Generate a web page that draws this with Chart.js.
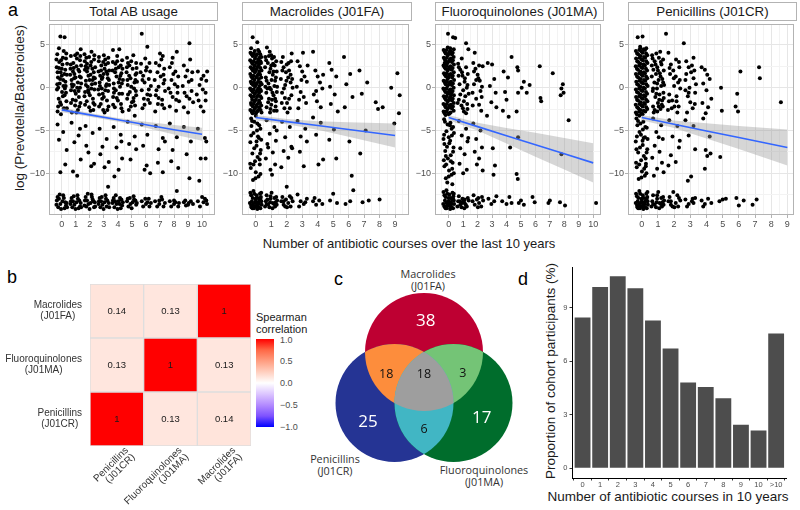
<!DOCTYPE html>
<html>
<head>
<meta charset="utf-8">
<title>Antibiotic courses and Prevotella/Bacteroides ratio</title>
<script src="https://cdn.jsdelivr.net/npm/chart.js@4.4.1/dist/chart.umd.min.js"></script>
<style>
  body { margin: 0; background: #fff; }
  #page { position: relative; width: 800px; height: 510px; overflow: hidden;
          font-family: "Liberation Sans", Arial, sans-serif; color: #1a1a1a; }
  .box { position: absolute; }
  .t { position: absolute; white-space: nowrap; line-height: 1; transform: translate(-50%, -50%); }
  .strip { position: absolute; box-sizing: border-box; border: 1px solid #b3b3b3; background: #fff;
           font-size: 13.3px; line-height: 17px; text-align: center; color: #1a1a1a; white-space: nowrap; }
  .letter { position: absolute; font-size: 18px; line-height: 1; color: #000; }
  .venn { position: absolute; font-family: "Open Sans", sans-serif; font-size: 10.8px; line-height: 12.3px;
          text-align: center; color: #333; white-space: nowrap; transform: translate(-50%, -50%); }
  .cb { position: absolute; font-size: 9px; color: #4d4d4d; line-height: 1; transform: translateY(-50%); }
</style>
</head>
<body>
<div id="page">
  <div class="letter" style="left:8px;top:1px">a</div>
  <div class="t" style="left:20px;top:108px;font-size:13.5px;transform:translate(-50%,-50%) rotate(-90deg)">log (Prevotella/Bacteroides)</div>
  <div class="t" style="left:409px;top:243px;font-size:13px">Number of antibiotic courses over the last 10 years</div>

  <div class="letter" style="left:7px;top:268px">b</div>
  <div class="t" style="left:256px;top:317px;font-size:11px;transform:translateY(-50%)">Spearman</div>
  <div class="t" style="left:256px;top:329px;font-size:11px;transform:translateY(-50%)">correlation</div>
  <div id="colorbar" class="box" style="left:256px;top:339px;width:18px;height:88px"></div>

  <div class="letter" style="left:334px;top:270px">c</div>
  <div class="venn" style="left:428px;top:280px">Macrolides<br>(J01FA)</div>
  <div class="venn" style="left:335px;top:465px">Penicillins<br>(J01CR)</div>
  <div class="venn" style="left:484px;top:476px">Fluoroquinolones<br>(J01MA)</div>

  <div class="letter" style="left:518px;top:270px">d</div>
  <div class="t" style="left:551px;top:371px;font-size:13.5px;transform:translate(-50%,-50%) rotate(-90deg)">Proportion of cohort participants (%)</div>
  <div class="t" style="left:668px;top:497px;font-size:13.5px">Number of antibiotic courses in 10 years</div>
</div>

<script>
const facetTitles = ['Total AB usage', 'Macrolides (J01FA)', 'Fluoroquinolones (J01MA)', 'Penicillins (J01CR)'];

const totalAbPoints = [
  // 0 courses
  -0.32,3.9, 0.14,4.3, 0.3,3.4, -0.18,3.0, 0.05,2.7, -0.36,2.4, 0.25,2.1, -0.08,1.8, 0.36,1.5, -0.27,1.2,
  0.1,0.9, -0.15,0.5, 0.28,0.2, -0.34,-0.2, 0.02,-0.5, 0.2,-0.9, -0.22,-1.3, 0.33,-1.6, -0.05,-2.0, 0.15,-2.4,
  -0.3,-2.8, 0.08,3.5, -0.12,1.0, 0.22,-0.1, -0.25,0.0, 0.38,2.8, -0.1,6.0, 0.2,5.9, -0.2,4.6, 0.0,1.4,
  -0.05,3.2, 0.32,4.0, -0.38,3.3, 0.18,1.6, -0.2,2.3, 0.26,0.7, -0.32,0.4, 0.08,-1.0, -0.12,-1.7, 0.36,-2.4,
  -0.26,-2.2, 0.12,0.2, -0.06,-3.1, 0.3,-0.6, -0.3,1.8, 0.0,2.2,
  -0.3,-4.3, 0.1,-5.2, -0.2,-6.1, 0.35,-7.3, -0.1,-9.9, 0.25,-9.0,
  -0.35,-13.2, -0.1,-13.6, 0.15,-12.9, 0.3,-13.8, -0.25,-14.0, 0.05,-13.3, 0.35,-13.5, -0.15,-12.5, 0.2,-14.1, -0.38,-13.7,
  -0.2,-13.0, 0.25,-13.4, -0.05,-14.2, 0.1,-12.6, -0.3,-12.8, 0.38,-14.0,
  // 1
  0.65,3.7, 1.1,4.0, 1.3,3.2, 0.82,2.9, 1.05,2.5, 0.62,2.2, 1.25,1.9, 0.9,1.6, 1.36,1.2, 0.7,0.9,
  1.15,0.6, 0.85,0.3, 1.3,0.0, 0.66,-0.3, 1.0,-0.7, 1.22,-1.1, 0.78,-1.4, 1.33,-1.8, 0.95,-2.1, 1.15,-2.6,
  0.72,-2.9, 1.08,3.4, 0.88,1.1, 1.2,-0.4, 0.75,0.1, 1.38,2.6, 1.0,-1.5, 0.6,1.5, 1.35,4.5,
  0.95,3.8, 1.32,3.7, 0.64,2.7, 1.18,2.1, 0.8,1.9, 1.28,1.3, 0.72,0.4, 1.1,0.0, 0.92,-0.4, 1.25,-2.2,
  0.66,-1.8, 1.05,-2.9, 0.85,2.3, 1.38,0.5, 0.98,1.2,
  0.7,-4.1, 1.2,-5.6, 0.9,-6.4, 1.35,-8.4, 0.8,-9.8, 1.1,-10.3, 1.3,-4.8,
  0.65,-13.3, 0.9,-13.7, 1.15,-13.0, 1.35,-13.5, 0.75,-14.0, 1.05,-13.4, 1.3,-13.9, 0.85,-12.7, 1.2,-14.1, 0.62,-13.6,
  0.7,-12.9, 1.25,-13.2, 0.98,-14.2, 1.12,-12.6, 0.8,-13.3, 1.38,-14.0,
  // 2
  1.62,3.9, 2.12,4.2, 2.3,3.3, 1.8,2.8, 2.05,2.6, 1.65,2.1, 2.28,1.8, 1.9,1.4, 2.36,1.1, 1.72,0.8,
  2.15,0.4, 1.85,0.1, 2.32,-0.2, 1.66,-0.5, 2.0,-0.9, 2.22,-1.3, 1.78,-1.6, 2.34,-2.0, 1.95,-2.3, 2.1,3.0,
  1.7,2.5, 2.2,0.9, 1.88,-0.3, 2.38,2.4, 1.62,-1.0, 2.05,1.5, 1.75,3.5, 2.25,-2.6,
  1.95,3.6, 2.32,3.8, 1.64,3.1, 2.18,2.2, 1.8,1.9, 2.28,1.2, 1.72,0.3, 2.1,-0.1, 1.92,-0.6, 2.25,-1.8,
  1.66,-2.0, 2.05,-2.7, 1.85,2.3, 2.38,0.5, 1.98,0.9,
  1.7,-4.5, 2.2,-5.3, 1.9,-7.6, 2.3,-8.9, 1.75,-6.8, 2.1,-9.2,
  1.65,-13.2, 1.9,-13.6, 2.15,-12.8, 2.35,-13.4, 1.75,-13.9, 2.05,-13.5, 2.3,-14.0, 1.85,-12.4, 2.2,-13.1, 1.62,-13.8,
  1.7,-12.8, 2.25,-13.3, 1.98,-14.2, 2.12,-12.5, 1.8,-13.2, 2.38,-13.9,
  // 3
  2.65,3.6, 3.1,3.3, 3.3,2.9, 2.82,2.6, 3.05,2.2, 2.62,1.9, 3.25,1.6, 2.9,1.2, 3.36,0.9, 2.7,0.6,
  3.15,0.2, 2.85,-0.1, 3.3,-0.4, 2.66,-0.8, 3.0,-1.1, 3.22,-1.5, 2.78,-1.9, 3.33,-2.2, 2.95,-2.6, 3.12,2.7,
  2.74,1.4, 3.2,0.4, 2.88,-1.3, 3.38,2.0, 2.6,-0.2, 3.0,3.8,
  2.95,3.0, 3.32,3.5, 2.64,3.1, 3.18,1.9, 2.8,2.0, 3.28,1.1, 2.72,0.2, 3.1,-0.3, 2.92,-0.7, 3.25,-2.6,
  2.66,-2.2, 3.05,-2.9, 2.85,1.0, 3.38,0.3, 2.98,1.6,
  2.7,-4.8, 3.2,-6.0, 2.9,-6.9, 3.35,-8.7, 3.05,-9.3, 2.75,-7.8,
  2.65,-13.3, 2.9,-13.7, 3.15,-13.0, 3.35,-13.5, 2.75,-14.0, 3.05,-13.4, 3.3,-11.6, 2.85,-12.8, 3.2,-13.9, 2.62,-13.6,
  2.7,-12.9, 3.25,-13.2, 2.98,-14.2, 3.12,-12.6, 2.8,-13.3, 3.38,-14.0,
  // 4
  3.65,4.4, 4.1,4.5, 4.3,3.2, 3.82,2.8, 4.05,2.4, 3.62,2.0, 4.25,1.7, 3.9,1.3, 4.36,0.9, 3.7,0.5,
  4.15,0.1, 3.85,-0.3, 4.3,-0.7, 3.66,-1.1, 4.0,-1.5, 4.22,-1.9, 3.78,-2.3, 4.33,-2.8, 3.95,3.7, 4.12,1.0,
  3.72,-0.6, 4.2,2.6,
  3.95,3.1, 4.32,2.2, 3.64,3.0, 4.18,1.4, 3.8,1.8, 4.28,0.5, 3.72,-0.1, 4.1,-0.7, 3.92,-1.2, 4.25,-2.4,
  3.66,-2.0, 4.05,0.6, 3.85,2.2,
  3.7,-4.6, 4.2,-5.5, 3.9,-7.0, 4.3,-8.3, 4.05,-9.6, 3.75,-10.4, 4.25,-6.3,
  3.65,-13.2, 3.9,-13.6, 4.15,-12.9, 4.35,-13.4, 3.75,-14.0, 4.05,-13.3, 4.3,-13.8, 3.85,-12.6, 4.2,-14.1, 3.62,-13.5,
  3.7,-12.9, 4.25,-13.1, 3.98,-14.2, 4.12,-13.6, 3.8,-13.3,
  // 5
  4.65,3.5, 5.1,3.8, 5.3,2.9, 4.82,2.6, 5.05,2.2, 4.62,1.8, 5.25,1.5, 4.9,1.1, 5.36,0.7, 4.7,0.3,
  5.15,-0.1, 4.85,-0.5, 5.3,-0.9, 4.66,-1.3, 5.0,-1.7, 5.22,-2.1, 4.78,-2.6, 5.33,2.3, 4.95,0.1, 5.12,-1.2,
  4.72,2.9, 5.2,-3.3,
  4.95,3.1, 5.32,1.7, 4.64,2.4, 5.18,0.6, 4.8,1.4, 5.28,-0.4, 4.72,-0.8, 5.1,-1.6, 4.92,-2.2, 5.25,0.9, 4.68,0.9,
  4.7,-4.0, 5.2,-5.7, 4.9,-8.4, 5.3,-7.2, 4.8,-6.6,
  4.65,-13.3, 4.9,-13.6, 5.15,-13.1, 5.35,-13.5, 4.75,-13.9, 5.05,-13.4, 5.3,-13.7, 4.85,-12.9,
  4.7,-13.0, 5.25,-13.2, 4.98,-14.1, 5.12,-12.7,
  // 6
  5.7,6.3, 6.1,4.8, 5.65,2.8, 6.05,2.4, 6.3,1.9, 5.8,1.4, 6.2,1.0, 5.9,0.6, 6.35,0.2, 5.7,-0.3,
  6.1,-0.8, 5.85,-1.3, 6.28,-1.8, 5.75,-2.4, 6.0,2.0, 6.2,-0.2,
  5.95,3.4, 6.25,2.9, 5.75,0.9, 6.15,-1.4, 5.9,-2.0, 6.3,-0.9, 5.62,1.8,
  5.7,-4.3, 6.1,-5.5, 5.9,-9.6, 6.3,-10.0, 6.05,-9.1, 5.8,-6.8,
  5.7,-13.3, 6.0,-13.6, 6.2,-13.0, 6.35,-13.5, 5.8,-13.9, 6.1,-13.4, 5.95,-13.0, 6.25,-13.9,
  // 7
  6.7,2.9, 7.1,3.3, 7.3,2.2, 6.82,1.8, 7.05,1.3, 6.62,0.9, 7.25,0.5, 6.9,0.1, 7.36,-0.4, 6.7,-0.9,
  7.15,-1.4, 6.85,-1.9, 7.3,-2.4, 6.66,-2.8, 7.0,4.0, 7.2,3.7,
  6.95,2.6, 7.25,1.5, 6.75,-0.3, 7.15,-2.0, 6.9,-1.2, 7.32,0.9,
  6.7,-4.5, 7.2,-5.9, 6.9,-7.2, 7.35,-6.3, 6.85,-8.8, 7.2,-9.9,
  6.65,-13.3, 6.95,-13.6, 7.15,-13.1, 7.35,-13.5, 6.8,-13.9, 7.1,-12.8, 6.95,-13.2, 7.25,-13.9,
  // 8
  7.7,2.4, 8.1,1.9, 8.3,1.3, 7.82,0.9, 8.05,0.4, 7.62,-0.1, 8.25,-0.6, 7.9,-1.1, 8.36,-1.6, 7.7,-2.2,
  8.15,-2.7, 8.2,4.2, 7.85,2.9, 7.95,1.6, 8.25,0.1, 7.75,-0.6, 8.15,-1.4, 7.9,3.5,
  7.7,-4.2, 8.2,-5.8, 7.9,-7.3, 8.3,-9.4, 7.8,-8.6,
  7.7,-13.3, 8.0,-13.6, 8.2,-12.1, 8.35,-13.5, 7.8,-13.9, 8.1,-13.4, 8.0,-13.2, 8.3,-13.9,
  // 9
  8.7,2.6, 9.1,5.2, 9.3,1.8, 8.82,1.3, 9.05,0.7, 8.62,0.2, 9.25,-0.4, 8.9,-1.0, 9.36,-1.7, 8.7,-2.3,
  9.15,3.3, 9.0,-2.9, 8.95,2.0, 9.25,0.9, 8.75,-0.6, 9.1,-1.3,
  8.7,-4.6, 9.2,-6.3, 8.9,-7.8, 9.1,-10.6,
  8.7,-13.4, 9.0,-13.7, 9.2,-13.3, 9.35,-13.6, 8.85,-13.8, 9.05,-13.5, 8.8,-13.2,
  // 10
  9.7,1.9, 10.1,1.4, 10.3,0.8, 9.82,0.3, 10.05,-0.2, 9.62,-0.8, 10.25,-1.5, 9.9,-2.2, 10.36,1.9, 10.1,-2.8,
  9.95,1.0, 10.25,-0.6, 9.75,-1.5,
  9.7,-4.8, 10.2,-5.9, 9.9,-8.3, 10.25,-8.3, 9.8,-10.9, 10.3,-6.3,
  9.7,-13.3, 10.0,-12.8, 10.2,-13.0, 10.35,-13.6, 9.85,-13.9, 10.1,-13.4, 10.3,-13.2
];

const macrolidePoints = [
  // 0 courses
  -0.34,4.1, -0.36,3.2, -0.33,2.4, -0.35,1.6, -0.32,0.7, -0.36,-0.1, -0.34,-0.9, -0.31,-1.8, -0.35,-2.6,
  -0.27,3.9, -0.28,3.0, -0.26,2.2, -0.29,1.3, -0.27,0.5, -0.28,-0.3, -0.26,-1.1, -0.29,-2.0, -0.27,-2.8,
  -0.2,3.7, -0.22,2.8, -0.19,2.0, -0.21,1.1, -0.18,0.3, -0.2,-0.5, -0.23,-1.4, -0.19,-2.2, -0.21,-3.0,
  -0.13,4.0, -0.14,3.1, -0.12,2.3, -0.15,1.4, -0.13,0.6, -0.14,-0.2, -0.12,-1.0, -0.15,-1.9, -0.13,-2.7,
  -0.07,4.3, -0.05,3.4, -0.08,2.6, -0.06,1.8, -0.09,0.9, -0.05,0.1, -0.07,-0.7, -0.08,-1.6, -0.06,-2.4,
  0.01,3.7, 0.02,2.9, 0.0,2.0, 0.03,1.2, 0.01,0.3, 0.02,-0.5, 0.0,-1.4, 0.03,-2.2, 0.01,-3.0,
  0.08,3.9, 0.1,3.0, 0.07,2.2, 0.09,1.4, 0.06,0.5, 0.1,-0.3, 0.08,-1.1, 0.07,-2.0, 0.09,-2.8,
  0.15,4.4, 0.16,3.3, 0.14,2.5, 0.17,1.6, 0.15,0.7, 0.16,-0.1, 0.14,-0.9, 0.17,-1.8, 0.15,-2.6,
  0.22,4.2, 0.24,3.5, 0.21,2.7, 0.23,1.9, 0.2,1.0, 0.24,0.2, 0.22,-0.6, 0.21,-1.5, 0.23,-2.3,
  0.29,3.9, 0.3,2.3, 0.28,1.5, 0.31,0.6, 0.29,-0.2, 0.3,-1.0, 0.28,-1.8, 0.31,-2.6,
  0.36,3.6, 0.34,2.9, 0.37,2.0, 0.35,1.2, 0.38,0.4, 0.34,-0.4, 0.36,-1.2, 0.35,-2.1, 0.37,-2.9,
  -0.2,5.9, 0.1,5.3, -0.3,4.6, 0.0,-3.3, 0.3,3.1,
  -0.3,-3.6, 0.1,-4.2, 0.3,-4.8, -0.15,-5.3, 0.2,-5.9, -0.35,-6.4, 0.05,-6.8, 0.32,-7.3, -0.22,-7.7, 0.12,-8.1,
  -0.05,-8.6, 0.26,-9.0, -0.32,-9.4, 0.0,-9.9, 0.18,-10.4, -0.18,-10.8, -0.28,-4.5, 0.35,-6.1, -0.1,-7.1, 0.25,-8.4,
  -0.36,-8.9, 0.08,-5.0, -0.24,-3.9, 0.3,-10.1,
  -0.1,-4.0, 0.22,-4.4, -0.3,-5.6, 0.05,-6.3, -0.15,-9.0, 0.28,-7.7, -0.02,-10.6, 0.14,-5.7,
  -0.35,-12.3, -0.2,-12.9, -0.05,-13.5, 0.1,-13.9, 0.25,-13.2, 0.38,-13.7, -0.3,-13.8, -0.12,-14.1, 0.05,-12.6, 0.2,-14.0,
  0.33,-12.8, -0.25,-13.3, -0.02,-13.0, 0.15,-13.4, 0.3,-14.1, -0.38,-13.5, -0.15,-12.1, 0.08,-13.7, 0.27,-12.4, -0.08,-13.9,
  0.36,-13.3, -0.28,-14.0, 0.12,-12.9, -0.18,-13.6,
  -0.3,-12.6, 0.0,-13.3, 0.2,-13.6, -0.1,-12.4, 0.35,-12.3, -0.22,-14.1, 0.1,-14.2, 0.3,-13.0,
  // 1
  0.62,3.6, 0.78,2.9, 0.95,2.2, 1.1,1.5, 1.25,0.8, 1.38,0.1, 0.68,-0.6, 0.85,-1.3, 1.0,-2.0, 1.18,-2.7,
  1.32,3.1, 0.72,4.7, 0.9,4.2, 1.05,3.4, 1.22,2.6, 1.35,1.9, 0.65,1.2, 0.82,0.5, 0.98,-0.2, 1.15,-0.9,
  1.3,-1.6, 0.7,-2.3, 0.88,1.8, 1.02,0.9, 1.2,0.2, 0.75,-0.1, 1.28,-2.2, 0.92,-2.9, 1.12,2.8, 0.6,2.4,
  1.36,-0.5, 1.0,3.8,
  0.67,3.2, 0.85,3.7, 1.0,2.6, 1.15,1.9, 1.3,1.2, 0.7,0.8, 0.9,0.0, 1.08,-0.6, 1.25,-1.3, 0.8,-1.7,
  0.95,-2.5, 1.35,-2.7, 0.62,0.1, 1.18,3.6, 1.05,-1.4,
  0.7,-3.8, 1.2,-4.6, 0.9,-5.4, 1.3,-6.2, 0.8,-7.0, 1.1,-7.6, 0.65,-8.3, 1.25,-9.0, 0.95,-9.6, 1.35,-5.0,
  0.75,-6.6, 1.05,-10.2,
  0.65,-13.3, 0.8,-13.7, 0.95,-13.0, 1.1,-13.5, 1.25,-13.9, 1.38,-13.2, 0.7,-12.6, 0.88,-14.0, 1.02,-12.3, 1.18,-13.6,
  1.32,-12.8, 0.6,-13.9, 1.08,-14.1, 0.92,-13.4, 1.28,-13.4, 0.75,-13.1,
  0.7,-13.6, 1.2,-12.9, 0.95,-12.7, 1.35,-13.7,
  // 2
  1.65,3.0, 1.8,2.4, 1.95,1.8, 2.1,1.2, 2.25,0.6, 2.38,0.0, 1.7,-0.6, 1.88,-1.2, 2.02,-1.8, 2.2,-2.4,
  2.32,4.0, 1.75,3.6, 2.0,2.7, 2.15,2.0, 1.62,1.0, 2.3,-0.9, 1.9,0.3, 2.05,-2.9, 2.25,1.5, 1.82,-0.1,
  1.72,2.0, 2.12,2.9, 1.98,0.8, 2.35,1.0, 1.68,-1.8, 2.15,-1.3, 1.85,-2.4, 2.28,3.1,
  1.7,-4.0, 2.2,-4.6, 1.9,-5.8, 2.3,-6.9, 1.8,-7.4, 2.1,-8.2, 1.65,-9.3, 2.35,-7.1, 2.0,-11.6,
  1.65,-13.3, 1.8,-13.7, 1.95,-13.1, 2.1,-13.5, 2.25,-13.9, 2.38,-13.3, 1.72,-12.8, 2.02,-14.0, 2.3,-12.9, 1.9,-13.9,
  1.8,-13.3, 2.2,-12.7,
  // 3
  2.7,3.1, 2.85,2.5, 3.0,1.9, 3.15,1.3, 3.3,0.7, 2.65,0.1, 2.9,-0.5, 3.1,-1.1, 3.25,-1.8, 2.75,-2.4,
  3.05,4.1, 2.95,0.9, 3.35,2.6, 2.8,-1.4,
  2.7,-3.9, 3.2,-4.8, 2.9,-5.7, 3.3,-6.3, 2.85,-7.5, 3.1,-9.2,
  2.7,-12.5, 2.9,-13.3, 3.1,-13.6, 3.3,-13.0, 2.8,-13.9, 3.2,-13.4,
  // 4
  3.7,4.2, 3.85,2.0, 4.0,1.3, 4.15,0.6, 4.3,-0.1, 3.75,-0.8, 3.95,-1.6, 4.2,-2.3, 4.35,1.5, 3.9,-0.4,
  3.7,-3.5, 4.2,-4.1, 3.9,-5.5, 4.35,-8.4, 4.05,-9.0,
  3.7,-13.3, 3.9,-13.7, 4.1,-13.2, 4.3,-13.6, 3.8,-12.9,
  // 5 - 9
  4.75,2.9, 4.9,2.1, 5.2,1.3, 4.8,0.1, 5.1,-0.8, 4.85,-1.9, 5.3,-2.8, 5.05,-4.9, 5.2,-8.3, 4.75,-6.1,
  5.0,-12.4, 5.25,-13.5, 4.8,-13.2,
  5.7,3.6, 6.1,1.6, 5.85,0.4, 6.25,-1.1, 5.75,-2.3, 6.05,-6.3, 6.2,-10.3, 6.3,-12.0, 5.8,-13.6, 6.1,-13.3,
  6.7,2.0, 7.2,0.6, 6.85,-0.7, 7.1,-5.0, 6.75,-7.7, 7.3,-13.2, 6.9,-13.4,
  7.75,-1.7, 8.2,-2.3, 7.9,-2.5, 8.0,-13.1,
  8.75,0.0, 9.15,1.7, 9.3,-0.9, 9.25,-3.0, 8.95,-4.2
];

const fluoroPoints = [
  // 0 courses
  -0.35,4.4, -0.34,3.5, -0.36,2.6, -0.33,1.7, -0.35,0.8, -0.37,-0.1, -0.34,-1.0, -0.36,-1.9, -0.35,-2.8,
  -0.28,4.2, -0.27,3.3, -0.29,2.4, -0.28,1.5, -0.27,0.6, -0.29,-0.3, -0.28,-1.2, -0.27,-2.1, -0.29,-3.0,
  -0.21,4.0, -0.2,3.1, -0.22,2.2, -0.19,1.3, -0.21,0.4, -0.23,-0.5, -0.2,-1.4, -0.21,-2.3, -0.22,-3.2,
  -0.14,4.4, -0.13,3.5, -0.15,2.6, -0.14,1.7, -0.13,0.8, -0.15,-0.1, -0.14,-1.0, -0.13,-1.9, -0.15,-2.8,
  -0.07,4.7, -0.06,3.8, -0.08,2.9, -0.07,2.0, -0.05,1.1, -0.08,0.2, -0.07,-0.7, -0.06,-1.6, -0.08,-2.5,
  0.0,4.0, 0.01,3.1, -0.01,2.2, 0.0,1.3, 0.01,0.4, -0.01,-0.5, 0.0,-1.4, 0.01,-2.3, 0.0,-3.1,
  0.07,4.2, 0.08,3.3, 0.06,2.4, 0.07,1.5, 0.09,0.6, 0.06,-0.3, 0.08,-1.2, 0.07,-2.1, 0.06,-3.0,
  0.14,4.3, 0.15,3.4, 0.13,2.5, 0.14,1.6, 0.15,0.7, 0.13,-0.2, 0.14,-1.1, 0.15,-2.0, 0.13,-2.9,
  0.21,3.9, 0.22,3.0, 0.2,2.1, 0.23,1.2, 0.21,0.3, 0.2,-0.6, 0.22,-1.5, 0.21,-2.4,
  0.28,4.1, 0.29,3.2, 0.27,2.3, 0.28,1.4, 0.29,0.5, 0.27,-0.4, 0.28,-1.3, 0.29,-2.2,
  0.35,4.5, 0.34,3.6, 0.36,2.7, 0.35,1.8, 0.37,0.9, 0.34,0.0, 0.36,-0.9, 0.35,-1.8, 0.34,-2.7,
  -0.05,6.3, 0.3,5.9, 0.45,5.8, 0.1,4.6, -0.28,2.9, 0.14,-0.8, -0.14,0.7,
  -0.32,-3.7, 0.12,-4.1, 0.3,-4.6, -0.16,-5.1, 0.22,-5.6, -0.36,-6.0, 0.04,-6.5, 0.33,-7.0, -0.24,-7.4, 0.14,-7.9,
  -0.06,-8.3, 0.27,-8.8, -0.3,-9.2, 0.02,-9.7, 0.2,-10.2, -0.2,-10.6, -0.1,-11.1, 0.36,-5.3, -0.12,-6.9, 0.24,-9.5,
  -0.34,-8.5, 0.08,-4.4, -0.26,-4.0, 0.35,-10.0, 0.0,-5.8, -0.2,-8.0,
  -0.08,-4.3, 0.2,-4.8, -0.32,-5.5, 0.1,-6.2, -0.18,-9.0, 0.3,-7.5, 0.0,-10.4, 0.15,-8.6, -0.3,-6.6, 0.25,-11.3,
  -0.36,-12.2, -0.22,-12.8, -0.06,-13.4, 0.1,-13.9, 0.24,-13.1, 0.37,-13.6, -0.3,-13.9, -0.14,-14.1, 0.04,-12.5, 0.19,-14.0,
  0.32,-12.7, -0.26,-13.2, -0.02,-12.9, 0.14,-13.4, 0.3,-14.1, -0.38,-13.6, -0.16,-12.0, 0.08,-13.7, 0.26,-12.3, -0.08,-13.8,
  0.35,-13.2, -0.28,-13.9, 0.12,-12.9, -0.18,-13.5,
  -0.3,-12.6, 0.0,-13.3, 0.2,-13.6, -0.1,-12.4, 0.35,-12.4, -0.22,-14.1, 0.1,-14.2, 0.3,-13.0,
  // 1
  0.65,2.8, 0.8,2.1, 0.95,1.4, 1.1,0.7, 1.25,0.0, 1.38,-0.7, 0.7,-1.4, 0.88,-2.1, 1.05,-2.8, 1.2,2.4,
  1.32,1.6, 0.75,0.4, 1.0,-0.3, 1.15,-1.0, 0.62,-1.8, 1.3,-2.5, 0.9,3.4, 1.2,5.2, 1.36,4.5,
  0.7,2.4, 0.92,1.8, 1.12,1.1, 1.3,0.3, 0.8,-0.8, 1.05,-1.6, 1.28,-1.9, 0.68,1.4, 0.98,-2.4, 1.2,-3.0,
  0.7,-3.9, 1.2,-4.8, 0.9,-5.6, 1.3,-6.3, 0.8,-7.1, 1.1,-7.8, 0.75,-8.9, 1.25,-9.6, 1.0,-10.0, 1.35,-5.9,
  0.65,-13.3, 0.8,-13.7, 0.95,-13.0, 1.1,-13.5, 1.25,-13.9, 1.38,-13.2, 0.7,-12.7, 0.88,-14.0, 1.02,-13.3, 1.18,-13.7,
  1.32,-12.9, 0.6,-13.9, 1.08,-14.1, 0.92,-13.5, 1.1,-13.1, 0.78,-13.3,
  // 2
  1.7,2.9, 1.85,2.2, 2.0,1.5, 2.15,0.8, 2.3,0.1, 1.65,-0.6, 1.9,-1.3, 2.1,-2.0, 2.25,-2.7, 1.8,4.1,
  2.05,1.1, 2.35,2.5, 1.75,0.4, 2.2,-0.4, 1.75,1.9, 2.1,2.6, 1.9,0.9, 2.28,-1.1, 1.66,-2.1,
  1.7,-4.2, 2.2,-5.0, 1.9,-6.0, 2.3,-7.0, 1.8,-7.5, 2.1,-8.3, 2.35,-9.7, 1.95,-9.0,
  1.65,-13.3, 1.8,-13.7, 1.95,-13.1, 2.1,-13.5, 2.25,-13.9, 2.38,-13.2, 1.72,-12.6, 2.02,-14.0, 2.3,-12.8, 2.05,-12.9,
  // 3 - 10
  2.7,2.9, 3.0,2.7, 3.15,1.0, 2.85,0.2, 3.25,-0.6, 2.95,-1.7, 3.3,-2.3, 2.65,-3.3,
  3.05,-7.1, 3.2,-9.1, 3.1,-10.2,
  2.75,-13.0, 2.95,-13.6, 3.15,-13.3, 3.3,-12.7,
  3.8,1.9, 4.1,1.2, 4.35,3.6, 3.9,-0.5, 4.0,-1.4, 3.75,-2.7, 4.15,-3.4, 4.25,-7.0,
  3.7,-13.3, 4.0,-13.6, 4.2,-12.8, 4.35,-13.5,
  4.75,2.4, 4.8,2.0, 5.2,0.7, 4.8,-0.6, 5.05,0.0, 4.7,-2.8, 4.8,-5.8, 4.7,-10.1, 4.78,-10.7,
  5.0,-13.2, 5.2,-13.7, 4.85,-13.5,
  5.6,0.3, 5.4,-0.6, 5.8,-12.8, 5.95,-13.4, 6.3,2.5, 6.35,-1.2, 6.4,-1.6,
  7.2,1.7, 7.0,-13.2, 6.9,-13.5,
  7.8,-0.1, 7.9,0.4, 7.95,-0.6, 7.75,-0.9, 7.8,-7.8, 8.3,-3.8, 7.7,-13.4, 8.05,-13.8,
  10.2,-13.5
];

const penicillinPoints = [
  // 0 courses
  -0.36,4.3, -0.35,3.4, -0.37,2.5, -0.36,1.6, -0.34,0.7, -0.36,-0.2, -0.35,-1.1, -0.37,-2.0, -0.36,-2.9,
  -0.29,4.0, -0.28,3.1, -0.3,2.2, -0.29,1.3, -0.28,0.4, -0.3,-0.5, -0.29,-1.4, -0.28,-2.3, -0.3,-3.1,
  -0.22,3.9, -0.21,3.0, -0.23,2.1, -0.22,1.2, -0.2,0.3, -0.22,-0.6, -0.23,-1.5, -0.21,-2.4,
  -0.15,4.4, -0.14,3.5, -0.16,2.6, -0.15,1.7, -0.14,0.8, -0.16,-0.1, -0.15,-1.0, -0.14,-1.9, -0.16,-2.8,
  -0.08,4.6, -0.07,3.7, -0.09,2.8, -0.08,1.9, -0.06,1.0, -0.08,0.1, -0.09,-0.8, -0.07,-1.7, -0.08,-2.6,
  -0.01,4.2, 0.0,3.3, -0.02,2.4, -0.01,1.5, 0.0,0.6, -0.02,-0.3, -0.01,-1.2, 0.0,-2.1, -0.02,-3.0,
  0.06,4.1, 0.07,3.2, 0.05,2.3, 0.06,1.4, 0.08,0.5, 0.05,-0.4, 0.07,-1.3, 0.06,-2.2, 0.05,-3.1,
  0.13,4.5, 0.14,3.6, 0.12,2.7, 0.13,1.8, 0.14,0.9, 0.12,0.0, 0.13,-0.9, 0.14,-1.8, 0.12,-2.7,
  0.2,4.4, 0.21,3.5, 0.19,2.6, 0.2,1.7, 0.22,0.8, 0.19,-0.1, 0.21,-1.0, 0.2,-1.9, 0.22,-2.8,
  0.27,4.0, 0.28,3.1, 0.26,2.2, 0.27,1.3, 0.28,0.4, 0.26,-0.5, 0.27,-1.4, 0.28,-2.3,
  0.34,3.8, 0.35,2.9, 0.33,2.0, 0.34,1.1, 0.36,0.2, 0.33,-0.7, 0.35,-1.6, 0.34,-2.5,
  -0.25,5.9, 0.05,6.0, -0.1,4.8, 0.28,4.6, -0.15,-3.3, 0.12,2.7,
  -0.33,-3.6, 0.1,-4.0, 0.31,-4.7, -0.14,-5.2, 0.2,-5.8, -0.37,-6.3, 0.06,-6.7, 0.34,-7.2, -0.22,-7.6, 0.13,-8.0,
  -0.04,-8.5, 0.26,-8.9, -0.31,-9.3, 0.01,-9.8, 0.19,-10.3, -0.19,-10.7, -0.27,-4.4, 0.36,-6.0, -0.11,-7.0, 0.24,-8.3,
  -0.35,-8.8, 0.07,-4.9, -0.23,-3.9, 0.29,-10.0, -0.05,-5.5, 0.15,-9.5,
  -0.08,-4.2, 0.22,-4.6, -0.3,-5.7, 0.05,-6.2, -0.16,-9.0, 0.3,-7.6, -0.02,-10.5, 0.12,-5.9, -0.33,-7.2, 0.25,-9.2,
  -0.35,-12.4, -0.21,-12.9, -0.05,-13.5, 0.11,-13.9, 0.26,-13.2, 0.38,-13.7, -0.29,-13.8, -0.11,-14.1, 0.06,-12.6, 0.21,-14.0,
  0.34,-12.8, -0.25,-13.3, -0.01,-13.0, 0.16,-13.4, 0.31,-14.1, -0.37,-13.5, -0.15,-12.1, 0.09,-13.7, 0.28,-12.4, -0.07,-13.9,
  0.36,-13.3, -0.27,-14.0, 0.13,-12.9, -0.17,-13.6,
  -0.3,-12.7, 0.0,-13.3, 0.2,-13.6, -0.1,-12.4, 0.35,-12.2, -0.22,-14.1, 0.1,-14.2, 0.3,-13.0,
  // 1
  0.64,3.8, 0.8,3.1, 0.96,2.4, 1.12,1.7, 1.27,1.0, 1.38,0.3, 0.68,-0.4, 0.84,-1.1, 1.0,-1.8, 1.16,-2.5,
  1.32,3.3, 0.72,2.1, 0.9,4.0, 1.06,3.5, 1.22,2.7, 1.36,2.0, 0.62,1.3, 0.78,0.6, 0.94,-0.1, 1.1,-0.8,
  1.26,-1.5, 0.7,-2.2, 0.88,1.6, 1.04,0.9, 1.2,0.2, 0.74,-2.9, 1.3,-2.2, 0.96,-2.8, 1.14,4.2, 1.34,-0.6,
  1.5,6.3,
  0.67,3.4, 0.85,2.7, 1.0,2.0, 1.16,1.3, 1.32,0.6, 0.7,-0.1, 0.9,-0.7, 1.08,-1.4, 1.24,-2.0, 0.8,-2.6,
  0.95,0.5, 1.36,-1.2, 0.62,2.6, 1.18,3.0, 1.05,-2.2,
  0.7,-3.6, 1.2,-4.4, 0.9,-5.2, 1.3,-6.0, 0.8,-6.8, 1.1,-7.5, 0.65,-8.2, 1.25,-8.8, 0.95,-9.5, 1.35,-9.9,
  0.75,-10.3, 1.05,-5.8,
  0.65,-13.3, 0.8,-13.7, 0.95,-13.0, 1.1,-13.5, 1.25,-13.9, 1.38,-13.2, 0.7,-12.6, 0.88,-14.0, 1.02,-12.2, 1.18,-13.6,
  1.32,-12.8, 0.6,-13.9, 1.08,-14.1, 0.92,-13.4, 1.28,-13.4,
  0.7,-13.6, 1.2,-12.9, 0.95,-12.6, 1.35,-13.7,
  // 2
  1.65,4.1, 1.8,2.7, 1.95,2.0, 2.1,1.3, 2.25,0.6, 2.38,-0.1, 1.7,-0.8, 1.88,-1.5, 2.02,-2.2, 2.2,-2.9,
  2.32,2.4, 1.75,1.6, 2.0,0.2, 2.15,-1.0, 1.62,-2.6, 2.3,3.0,
  1.72,2.3, 2.12,3.3, 1.98,1.1, 2.35,0.9, 1.68,-1.6, 2.15,-1.6, 1.85,-2.4, 2.28,-2.2,
  1.7,-3.8, 2.2,-4.5, 1.9,-5.7, 2.3,-7.0, 1.8,-7.9, 2.1,-8.7, 1.65,-9.1, 2.35,-6.2,
  1.65,-13.3, 1.8,-13.7, 1.95,-12.2, 2.1,-13.5, 2.25,-13.9, 2.38,-13.2, 1.72,-12.8, 2.02,-14.0, 2.3,-12.9, 1.9,-13.9,
  1.8,-13.3, 2.2,-12.6,
  // 3
  2.6,5.2, 2.75,3.1, 2.9,2.4, 3.05,1.8, 3.2,1.1, 3.35,0.4, 2.7,-0.3, 2.85,-1.0, 3.0,-1.7, 3.15,-2.4,
  3.3,-0.6, 2.95,0.0, 3.25,2.0, 2.8,-2.9, 3.2,3.5, 2.75,1.6, 3.1,2.6, 2.9,-0.6, 3.28,-1.9, 2.7,0.9,
  2.7,-3.8, 3.2,-4.5, 2.9,-5.6, 3.3,-7.2, 2.85,-10.9, 3.05,-10.4,
  2.7,-13.1, 2.9,-13.6, 3.1,-13.3, 3.3,-12.9, 2.8,-13.9, 3.2,-13.5, 3.15,-13.0,
  // 4 - 8
  3.7,2.4, 3.9,2.1, 4.05,1.5, 4.2,1.0, 3.8,0.5, 4.0,-0.3, 4.3,-1.3, 3.75,-1.8, 4.1,-2.3, 3.95,-3.0,
  3.8,-3.6, 4.2,-5.7, 3.95,-7.3, 4.05,-8.0, 3.9,-9.5, 4.25,-7.7,
  3.7,-13.2, 3.9,-13.6, 4.1,-13.0, 4.3,-13.5, 3.8,-13.9,
  4.9,0.0, 4.95,-2.7, 4.85,-8.1, 4.8,-13.3, 5.0,-13.1, 5.2,-13.0,
  6.1,1.9, 5.9,-0.7, 5.8,-2.2, 5.95,-2.8, 5.85,-12.9, 6.0,-13.8, 6.3,-13.2,
  7.25,2.4, 7.3,1.1, 6.85,-13.7, 7.1,-13.1,
  8.6,-1.7
];

// linear fit and 95% band, read at a few x positions
const totalBandX = [0, 2, 4, 6, 8, 10];
const totalFit   = [-2.6, -3.18, -3.76, -4.34, -4.92, -5.45];
const totalHi    = [-2.32, -2.96, -3.54, -3.99, -4.37, -4.7];
const totalLo    = [-2.88, -3.40, -3.98, -4.69, -5.47, -6.2];

const macroBandX = [0, 2, 4, 6, 9];
const macroFit   = [-3.5, -3.97, -4.43, -4.9, -5.6];
const macroHi    = [-3.2, -3.67, -3.93, -4.05, -4.2];
const macroLo    = [-3.8, -4.27, -4.93, -5.75, -7.0];

const fluoroBandX = [0, 2, 4, 6, 8, 10];
const fluoroFit   = [-3.5, -4.56, -5.62, -6.68, -7.74, -8.8];
const fluoroHi    = [-3.2, -4.11, -4.72, -5.28, -5.89, -6.5];
const fluoroLo    = [-3.8, -5.01, -6.52, -8.08, -9.59, -11.1];

const peniBandX = [0, 2, 4, 6, 9];
const peniFit   = [-3.5, -4.28, -5.06, -5.83, -7.0];
const peniHi    = [-3.2, -3.83, -4.16, -4.48, -4.9];
const peniLo    = [-3.8, -4.73, -5.96, -7.18, -9.1];

const yTickValues = [5, 0, -5, -10];

// ---- panel b: Spearman correlation between classes ----
const corrNames = [['Penicillins', '(J01CR)'], ['Fluoroquinolones', '(J01MA)'], ['Macrolides', '(J01FA)']];
// rows bottom to top, columns left to right (same order as corrNames)
const corrRows = [
  [1, 0.13, 0.14],
  [0.13, 1, 0.13],
  [0.14, 0.13, 1]
];
const corrLegendTicks = ['1.0', '0.5', '0.0', '\u22120.5', '\u22121.0'];

// ---- panel c: overlap of users per class (%) ----
const vennSets = ['Macrolides', 'Penicillins', 'Fluoroquinolones'];
const vennCounts = [38, 25, 17, 18, 3, 6, 18]; // M, P, F, M∩P, M∩F, P∩F, all three

// ---- panel d: distribution of number of courses ----
const courseLabels = ['0', '1', '2', '3', '4', '5', '6', '7', '8', '9', '10', '>10'];
const proportionPct = [8.47, 10.18, 10.78, 10.11, 8.29, 6.72, 4.82, 4.56, 3.93, 2.44, 2.12, 7.56];

// ================================================================
Chart.defaults.font.family = '"Liberation Sans", Arial, sans-serif';
Chart.defaults.animation = false;
Chart.defaults.events = [];
Chart.defaults.maintainAspectRatio = false;
Chart.defaults.plugins.legend.display = false;
Chart.defaults.plugins.tooltip.enabled = false;

const page = document.getElementById('page');

function addBox(left, top, width, height) {
  const div = document.createElement('div');
  div.className = 'box';
  Object.assign(div.style, { left: left + 'px', top: top + 'px', width: width + 'px', height: height + 'px' });
  const canvas = document.createElement('canvas');
  div.appendChild(canvas);
  page.appendChild(div);
  return canvas;
}

function pairs(flat) {
  const out = [];
  for (let i = 0; i < flat.length; i += 2) out.push({ x: flat[i], y: flat[i + 1] });
  return out;
}
const zip = (xs, ys) => xs.map((x, i) => ({ x, y: ys[i] }));
const minus = v => (v < 0 ? '\u2212' + Math.abs(v) : String(v));
function stepTicks(from, to, step) {
  const t = [];
  for (let v = from; v <= to + 1e-9; v += step) t.push({ value: Math.round(v * 100) / 100 });
  return t;
}

const panelBorder = {
  id: 'panelBorder',
  afterDraw(chart) {
    const a = chart.chartArea, c = chart.ctx;
    c.save();
    c.strokeStyle = '#b3b3b3';
    c.lineWidth = 1;
    c.strokeRect(a.left + 0.5, a.top + 0.5, a.right - a.left - 1, a.bottom - a.top - 1);
    c.restore();
  }
};

// ---------------- panel a ----------------
const facetFrames = [
  { left: 49, right: 218, xmin: -0.91, xmax: 10.92 },
  { left: 242, right: 412, xmin: -0.89, xmax: 9.9 },
  { left: 435, right: 604, xmin: -0.95, xmax: 10.54 },
  { left: 628, right: 797, xmin: -0.85, xmax: 9.41 }
];
const facetSeries = [
  [totalAbPoints, totalBandX, totalFit, totalHi, totalLo],
  [macrolidePoints, macroBandX, macroFit, macroHi, macroLo],
  [fluoroPoints, fluoroBandX, fluoroFit, fluoroHi, fluoroLo],
  [penicillinPoints, peniBandX, peniFit, peniHi, peniLo]
];

facetFrames.forEach((f, i) => {
  const strip = document.createElement('div');
  strip.className = 'strip';
  Object.assign(strip.style, { left: f.left + 'px', top: '2px', width: (f.right - f.left) + 'px', height: '19px' });
  strip.textContent = facetTitles[i];
  page.appendChild(strip);

  const yW = 22, xH = 18;
  const canvas = addBox(f.left - yW, 20, f.right - f.left + yW + 1, 195 + xH);
  const [pts, bx, fit, hi, lo] = facetSeries[i];
  const isInt = v => Math.abs(v - Math.round(v)) < 1e-6;

  new Chart(canvas, {
    type: 'scatter',
    data: {
      datasets: [
        { type: 'line', data: zip(bx, fit), borderColor: '#3366ff', borderWidth: 1.6, pointRadius: 0, fill: false, order: 0 },
        { type: 'line', data: zip(bx, hi), borderWidth: 0, borderColor: 'rgba(0,0,0,0)', pointRadius: 0,
          fill: 2, backgroundColor: 'rgba(153,153,153,0.4)', order: 1 },
        { type: 'line', data: zip(bx, lo), borderWidth: 0, borderColor: 'rgba(0,0,0,0)', pointRadius: 0, fill: false, order: 1 },
        { data: pairs(pts), pointRadius: 2, pointBackgroundColor: '#000', pointBorderWidth: 0, order: 2 }
      ]
    },
    options: {
      layout: { padding: { left: 0, right: 1, top: 0, bottom: 0 } },
      scales: {
        x: {
          type: 'linear', min: f.xmin, max: f.xmax,
          afterBuildTicks: s => { s.ticks = stepTicks(-0.5, Math.floor(f.xmax * 2) / 2, 0.5); },
          afterFit: s => { s.height = xH; s.paddingLeft = 0; s.paddingRight = 0; },
          border: { display: false },
          grid: {
            color: c => (isInt(c.tick.value) ? '#e6e6e6' : '#f3f3f3'),
            tickColor: c => (isInt(c.tick.value) ? '#b3b3b3' : 'rgba(0,0,0,0)'),
            tickLength: 3
          },
          ticks: { color: '#4d4d4d', font: { size: 9 }, padding: 1, autoSkip: false, maxRotation: 0,
                   callback: v => (isInt(v) ? String(Math.round(v)) : '') }
        },
        y: {
          type: 'linear', min: -14.9, max: 7.45,
          afterBuildTicks: s => { s.ticks = stepTicks(-12.5, 5, 2.5); },
          afterFit: s => { s.width = yW; s.paddingTop = 0; s.paddingBottom = 0; },
          border: { display: false },
          grid: {
            color: c => (yTickValues.includes(c.tick.value) ? '#e6e6e6' : '#f3f3f3'),
            tickColor: c => (yTickValues.includes(c.tick.value) ? '#b3b3b3' : 'rgba(0,0,0,0)'),
            tickLength: 3
          },
          ticks: { color: '#4d4d4d', font: { size: 9 }, padding: 1, autoSkip: false,
                   callback: v => (yTickValues.includes(v) ? minus(v) : '') }
        }
      }
    },
    plugins: [panelBorder]
  });
});

// ---------------- panel b ----------------
function corrColor(v) {
  // blue - white - red, stops from a Lab-space gradient
  const pos = [[255, 255, 255], [255, 207, 191], [255, 158, 129], [255, 104, 70], [255, 0, 0]];
  const neg = [[255, 255, 255], [220, 197, 255], [179, 139, 255], [126, 82, 255], [0, 0, 255]];
  const stops = v >= 0 ? pos : neg;
  const t = Math.min(Math.abs(v), 1) * 4;
  const k = Math.min(Math.floor(t), 3), f = t - k;
  const c = stops[k].map((a, j) => Math.round(a + (stops[k + 1][j] - a) * f));
  return `rgb(${c[0]},${c[1]},${c[2]})`;
}
document.getElementById('colorbar').style.background =
  'linear-gradient(to bottom,' + [1, 0.75, 0.5, 0.25, 0, -0.25, -0.5, -0.75, -1].map(corrColor).join(',') + ')';
corrLegendTicks.forEach((lab, i) => {
  const d = document.createElement('div');
  d.className = 'cb';
  d.style.left = '280px';
  d.style.top = (339.5 + i * 21.75) + 'px';
  d.textContent = lab;
  page.appendChild(d);
});

const heatText = {
  id: 'heatText',
  afterDatasetsDraw(chart) {
    const { ctx, chartArea, scales } = chart;
    ctx.save();
    ctx.font = '9.5px "Liberation Sans", Arial, sans-serif';
    ctx.fillStyle = '#1a1a1a';
    ctx.textAlign = 'center';
    ctx.textBaseline = 'middle';
    corrRows.forEach((row, r) => {
      chart.getDatasetMeta(r).data.forEach((bar, c) => {
        ctx.fillText(String(row[c]), bar.x, (bar.y + bar.base) / 2 + 0.5);
      });
    });
    ctx.font = '10px "Liberation Sans", Arial, sans-serif';
    ctx.fillStyle = '#333';
    corrNames.forEach((name, i) => {
      // row labels: block right-aligned, lines centred
      const y = scales.y.getPixelForValue(i + 0.5);
      const w = Math.max(...name.map(s => ctx.measureText(s).width));
      ctx.textAlign = 'center';
      name.forEach((line, k) => ctx.fillText(line, chartArea.left - 8 - w / 2, y + (k - 0.5) * 11));
      // column labels rotated 45 degrees
      const x = scales.x.getPixelForValue(i);
      ctx.save();
      ctx.translate(x, chartArea.bottom);
      ctx.rotate(-Math.PI / 4);
      ctx.textAlign = 'right';
      name.forEach((line, k) => ctx.fillText(line, 5, 9 + k * 9.5));
      ctx.restore();
    });
    ctx.restore();
  }
};

new Chart(addBox(0, 270, 256, 240), {
  type: 'bar',
  data: {
    labels: corrNames.map(n => n.join(' ')),
    datasets: corrRows.map((row, r) => ({
      label: corrNames[r].join(' '),
      data: row.map(() => 1),
      backgroundColor: row.map(corrColor),
      borderColor: '#dedede',
      borderWidth: 1,
      borderSkipped: false,
      barPercentage: 1,
      categoryPercentage: 1
    }))
  },
  options: {
    layout: { padding: { top: 14, right: 5, left: 0, bottom: 0 } },
    scales: {
      x: { stacked: true, grid: { display: false }, border: { display: false }, ticks: { display: false },
           afterFit: s => { s.height = 64; s.paddingLeft = 0; s.paddingRight = 0; } },
      y: { stacked: true, min: 0, max: 3, grid: { display: false }, border: { display: false }, ticks: { display: false },
           afterFit: s => { s.width = 90; s.paddingTop = 0; s.paddingBottom = 0; } }
    }
  },
  plugins: [heatText]
});

// ---------------- panel c ----------------
// circle layout in radius units around the diagram centre
const vennLayout = [{ x: 0, y: 0.577 }, { x: -0.5, y: -0.289 }, { x: 0.5, y: -0.289 }];
const vennColors = ['#be0032', '#253494', '#006d2c'];
const vennOverlapColors = ['#fd8d3c', '#74c476', '#41b6c4', '#9e9e9e'];
const vennLabelSpots = [[0.03, 1.10], [-0.95, -0.61], [0.98, -0.55], [-0.64, 0.20], [0.66, 0.22], [0, -0.73], [0, 0.20]];

const vennOverlaps = {
  id: 'vennOverlaps',
  afterDatasetsDraw(chart) {
    const { ctx, scales } = chart;
    const pts = chart.getDatasetMeta(0).data;
    const circle = p => { ctx.beginPath(); ctx.arc(p.x, p.y, p.options.radius, 0, Math.PI * 2); };
    const fillWithin = (clipIdx, fillIdx, color) => {
      ctx.save();
      clipIdx.forEach(k => { circle(pts[k]); ctx.clip(); });
      circle(pts[fillIdx]);
      ctx.fillStyle = color;
      ctx.fill();
      ctx.restore();
    };
    fillWithin([0], 1, vennOverlapColors[0]);
    fillWithin([0], 2, vennOverlapColors[1]);
    fillWithin([1], 2, vennOverlapColors[2]);
    fillWithin([0, 1], 2, vennOverlapColors[3]);

    ctx.save();
    ctx.textAlign = 'center';
    ctx.textBaseline = 'middle';
    vennCounts.forEach((n, k) => {
      const big = k < 3;
      ctx.font = (big ? '17px' : '12.5px') + ' "Open Sans", sans-serif';
      ctx.fillStyle = big ? '#fff' : '#111';
      ctx.fillText(String(n), scales.x.getPixelForValue(vennLabelSpots[k][0]), scales.y.getPixelForValue(vennLabelSpots[k][1]));
    });
    ctx.restore();
  }
};

new Chart(addBox(306, 268, 236, 236), {
  type: 'scatter',
  data: {
    datasets: [{
      label: vennSets.join(' / '),
      data: vennLayout,
      backgroundColor: vennColors,
      borderWidth: 0,
      pointRadius: c => c.chart.scales.x.getPixelForValue(1) - c.chart.scales.x.getPixelForValue(0)
    }]
  },
  options: {
    layout: { padding: 0 },
    scales: {
      x: { display: false, min: -2, max: 2 },
      y: { display: false, min: -2, max: 2 }
    }
  },
  plugins: [vennOverlaps]
});

// ---------------- panel d ----------------
new Chart(addBox(540, 255, 250, 235), {
  type: 'bar',
  data: {
    datasets: [{
      data: proportionPct.map((v, i) => ({ x: i + 1, y: v })),
      backgroundColor: '#4d4d4d',
      borderWidth: 0,
      barPercentage: 0.9,
      categoryPercentage: 1
    }]
  },
  options: {
    layout: { padding: { top: 12, right: 3.3, left: 0, bottom: 0 } },
    scales: {
      x: {
        type: 'linear', min: 0.4, max: 12.6, offset: false,
        afterBuildTicks: s => { s.ticks = courseLabels.map((_, i) => ({ value: i + 1 })); },
        afterFit: s => { s.height = 12; s.paddingLeft = 0; s.paddingRight = 0; },
        border: { display: true, color: '#000', width: 1 },
        grid: { drawOnChartArea: false, tickLength: 2.5, tickColor: '#333' },
        ticks: { color: '#4d4d4d', font: { size: 7.5 }, padding: 0, autoSkip: false, maxRotation: 0,
                 callback: v => courseLabels[Math.round(v) - 1] }
      },
      y: {
        min: -0.55, max: 11.3,
        afterBuildTicks: s => { s.ticks = [0, 3, 6, 9].map(v => ({ value: v })); },
        afterFit: s => { s.width = 32; s.paddingTop = 0; s.paddingBottom = 0; },
        border: { display: true, color: '#000', width: 1 },
        grid: { drawOnChartArea: false, tickLength: 2.5, tickColor: '#333' },
        ticks: { color: '#4d4d4d', font: { size: 7.5 }, padding: 2 }
      }
    }
  }
});
</script>
</body>
</html>
